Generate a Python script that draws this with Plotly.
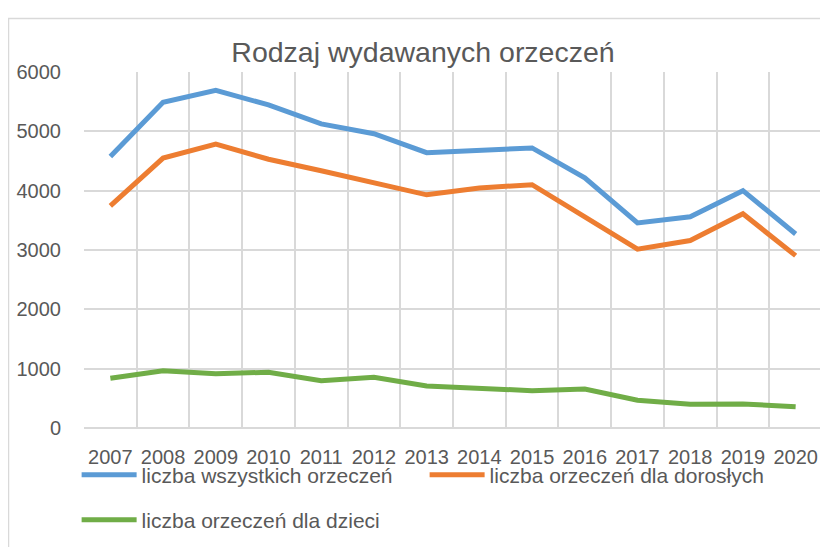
import plotly.graph_objects as go

years = ["2007", "2008", "2009", "2010", "2011", "2012", "2013", "2014",
         "2015", "2016", "2017", "2018", "2019", "2020"]
wszystkie = [4575, 5490, 5690, 5445, 5125, 4960, 4640, 4690, 4720, 4215, 3455, 3560, 4000, 3270]
dorosli = [3745, 4550, 4785, 4530, 4335, 4135, 3930, 4045, 4100, 3560, 3015, 3160, 3610, 2905]
dzieci = [838, 966, 916, 939, 798, 855, 708, 669, 629, 658, 467, 400, 405, 360]

names = ["liczba wszystkich orzeczeń", "liczba orzeczeń dla dorosłych", "liczba orzeczeń dla dzieci"]
colors = ["#5B9BD5", "#ED7D31", "#70AD47"]

FONT = "Liberation Sans"
TXT = "#595959"
GRID = "#D9D9D9"

# page has 8px body margin; figure is sized so the plot lands where the reference has it
W, H = 820, 539

x = list(range(len(years)))
fig = go.Figure()
for i, (vals, name, col) in enumerate(zip([wszystkie, dorosli, dzieci], names, colors)):
    fig.add_trace(go.Scatter(
        x=x, y=vals, mode="lines", name=name,
        line=dict(color=col, width=5),
        legend="legend" if i < 2 else "legend2",
    ))

fig.update_layout(
    width=W, height=H,
    margin=dict(l=76, r=6, t=64, b=119, autoexpand=False),
    paper_bgcolor="white", plot_bgcolor="white",
    font=dict(family=FONT, color=TXT, size=20),
    title=dict(text="Rodzaj wydawanych orzeczeń", x=415 / W, xref="container", xanchor="center",
               y=1 - 44 / H, yanchor="middle", font=dict(size=28.5, color=TXT, family=FONT)),
    showlegend=True,
    legend=dict(orientation="h", x=-0.01, xanchor="left", y=(428 - 475) / 356, yanchor="middle",
                entrywidth=278, entrywidthmode="pixels", font=dict(size=21, color=TXT),
                bgcolor="rgba(0,0,0,0)", itemwidth=55),
    legend2=dict(orientation="h", x=-0.01, xanchor="left", y=(428 - 520) / 356, yanchor="middle",
                 font=dict(size=21, color=TXT), bgcolor="rgba(0,0,0,0)", itemwidth=55),
    shapes=[dict(type="rect", xref="paper", yref="paper",
                 x0=(8.5 - 84) / 738, x1=1.05, y0=-0.5, y1=(428 - 18.5) / 356,
                 line=dict(color=GRID, width=1.5), fillcolor="rgba(0,0,0,0)", layer="below")],
)
fig.update_xaxes(
    range=[-0.5, len(years) - 0.5], tickmode="array", tickvals=x, ticktext=years,
    showgrid=False, zeroline=False, showline=False, ticks="",
    tickfont=dict(size=20, color=TXT), ticklabelstandoff=15,
    minor=dict(tickmode="array", tickvals=[i - 0.5 for i in range(len(years) + 1)],
               showgrid=True, gridcolor=GRID, gridwidth=1.5, ticks=""),
)
fig.update_yaxes(
    range=[0, 6000], tickvals=[0, 1000, 2000, 3000, 4000, 5000, 6000],
    showgrid=True, gridcolor=GRID, gridwidth=1.5, zeroline=True, zerolinecolor=GRID,
    zerolinewidth=1.5, showline=False, ticks="", tickfont=dict(size=20, color=TXT),
    ticklabelstandoff=22,
)

fig.write_html("out.html")
